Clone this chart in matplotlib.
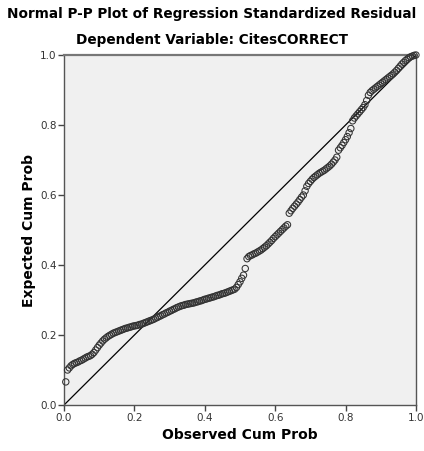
import matplotlib
matplotlib.use("Agg")
import matplotlib.pyplot as plt

# observed cumulative probability (x) and expected cumulative probability (y)
obs_cum = [
    0.005, 0.010, 0.015, 0.020, 0.025, 0.030, 0.035, 0.040, 0.045, 0.050,
    0.055, 0.060, 0.065, 0.070, 0.075, 0.080, 0.085, 0.090, 0.095, 0.100,
    0.105, 0.110, 0.115, 0.120, 0.125, 0.130, 0.135, 0.140, 0.145, 0.150,
    0.155, 0.160, 0.165, 0.170, 0.175, 0.180, 0.185, 0.190, 0.195, 0.200,
    0.205, 0.210, 0.215, 0.220, 0.225, 0.230, 0.235, 0.240, 0.245, 0.250,
    0.255, 0.260, 0.265, 0.270, 0.275, 0.280, 0.285, 0.290, 0.295, 0.300,
    0.305, 0.310, 0.315, 0.320, 0.325, 0.330, 0.335, 0.340, 0.345, 0.350,
    0.355, 0.360, 0.365, 0.370, 0.375, 0.380, 0.385, 0.390, 0.395, 0.400,
    0.405, 0.410, 0.415, 0.420, 0.425, 0.430, 0.435, 0.440, 0.445, 0.450,
    0.455, 0.460, 0.465, 0.470, 0.475, 0.480, 0.485, 0.490, 0.495, 0.500,
    0.505, 0.510, 0.515, 0.520, 0.525, 0.530, 0.535, 0.540, 0.545, 0.550,
    0.555, 0.560, 0.565, 0.570, 0.575, 0.580, 0.585, 0.590, 0.595, 0.600,
    0.605, 0.610, 0.615, 0.620, 0.625, 0.630, 0.635, 0.640, 0.645, 0.650,
    0.655, 0.660, 0.665, 0.670, 0.675, 0.680, 0.685, 0.690, 0.695, 0.700,
    0.705, 0.710, 0.715, 0.720, 0.725, 0.730, 0.735, 0.740, 0.745, 0.750,
    0.755, 0.760, 0.765, 0.770, 0.775, 0.780, 0.785, 0.790, 0.795, 0.800,
    0.805, 0.810, 0.815, 0.820, 0.825, 0.830, 0.835, 0.840, 0.845, 0.850,
    0.855, 0.860, 0.865, 0.870, 0.875, 0.880, 0.885, 0.890, 0.895, 0.900,
    0.905, 0.910, 0.915, 0.920, 0.925, 0.930, 0.935, 0.940, 0.945, 0.950,
    0.955, 0.960, 0.965, 0.970, 0.975, 0.980, 0.985, 0.990, 0.995, 1.000,
]
exp_cum = [
    0.066, 0.100, 0.106, 0.112, 0.116, 0.119, 0.121, 0.123, 0.126, 0.128,
    0.131, 0.134, 0.137, 0.139, 0.141, 0.145, 0.150, 0.157, 0.164, 0.171,
    0.177, 0.183, 0.188, 0.192, 0.196, 0.199, 0.202, 0.205, 0.207, 0.209,
    0.211, 0.213, 0.215, 0.217, 0.219, 0.220, 0.222, 0.223, 0.225, 0.226,
    0.227, 0.228, 0.230, 0.231, 0.233, 0.235, 0.237, 0.239, 0.241, 0.243,
    0.245, 0.248, 0.250, 0.253, 0.255, 0.258, 0.260, 0.263, 0.265, 0.268,
    0.270, 0.273, 0.275, 0.278, 0.280, 0.282, 0.284, 0.285, 0.287, 0.288,
    0.289, 0.290, 0.291, 0.292, 0.294, 0.295, 0.297, 0.298, 0.300, 0.302,
    0.303, 0.305, 0.306, 0.308, 0.309, 0.311, 0.313, 0.314, 0.316, 0.318,
    0.319, 0.321, 0.323, 0.325, 0.327, 0.329, 0.331, 0.336, 0.344, 0.352,
    0.362, 0.371, 0.390, 0.418, 0.424, 0.427, 0.429, 0.432, 0.434, 0.437,
    0.440, 0.443, 0.447, 0.451, 0.455, 0.460, 0.465, 0.470, 0.476, 0.481,
    0.486, 0.491, 0.496, 0.501, 0.506, 0.511, 0.515, 0.548, 0.555, 0.562,
    0.568, 0.574, 0.580, 0.587, 0.594, 0.600, 0.612, 0.625, 0.633, 0.639,
    0.645, 0.650, 0.654, 0.658, 0.662, 0.665, 0.668, 0.671, 0.675, 0.679,
    0.683, 0.688, 0.694, 0.700, 0.708, 0.728, 0.735, 0.742, 0.750, 0.758,
    0.767, 0.778, 0.790, 0.812, 0.820, 0.826, 0.832, 0.838, 0.844, 0.850,
    0.858, 0.870, 0.885, 0.893, 0.898, 0.902, 0.906, 0.910, 0.914, 0.918,
    0.922, 0.926, 0.930, 0.934, 0.938, 0.942, 0.946, 0.951, 0.956, 0.962,
    0.968, 0.974, 0.979, 0.984, 0.988, 0.992, 0.995, 0.997, 0.999, 1.000,
]
ticks = [0.0, 0.2, 0.4, 0.6, 0.8, 1.0]
tick_labels = ["0.0", "0.2", "0.4", "0.6", "0.8", "1.0"]

fig = plt.figure(figsize=(4.24, 4.51), dpi=100)
ax = fig.add_axes([0.151, 0.102, 0.830, 0.776])
ax.set_facecolor("#f0f0f0")

# reference diagonal
ax.plot([0, 1], [0, 1], color="black", lw=0.9, zorder=2)
ax.scatter(obs_cum, exp_cum, s=21, facecolors="none", edgecolors="#333333",
           linewidths=0.75, zorder=3, clip_on=False)

ax.set_xlim(0, 1)
ax.set_ylim(0, 1)
ax.set_xticks(ticks)
ax.set_xticklabels(tick_labels)
ax.set_yticks(ticks)
ax.set_yticklabels(tick_labels)
ax.tick_params(direction="out", length=4, width=1, color="#444444",
               labelsize=7.5, labelcolor="#333333", pad=1.5)
for s in ax.spines.values():
    s.set_color("#555555")
    s.set_linewidth(1.0)
ax.spines["top"].set_color("#777777")
ax.spines["top"].set_linewidth(1.6)

fig.text(0.5, 0.968, "Normal P-P Plot of Regression Standardized Residual",
         ha="center", va="center", fontsize=9.8, fontweight="bold")
fig.text(0.5, 0.911, "Dependent Variable: CitesCORRECT",
         ha="center", va="center", fontsize=9.8, fontweight="bold")
ax.set_xlabel("Observed Cum Prob", fontsize=10, fontweight="bold", labelpad=4)
ax.set_ylabel("Expected Cum Prob", fontsize=10, fontweight="bold", labelpad=3)

fig.savefig("out.png", dpi=100)
